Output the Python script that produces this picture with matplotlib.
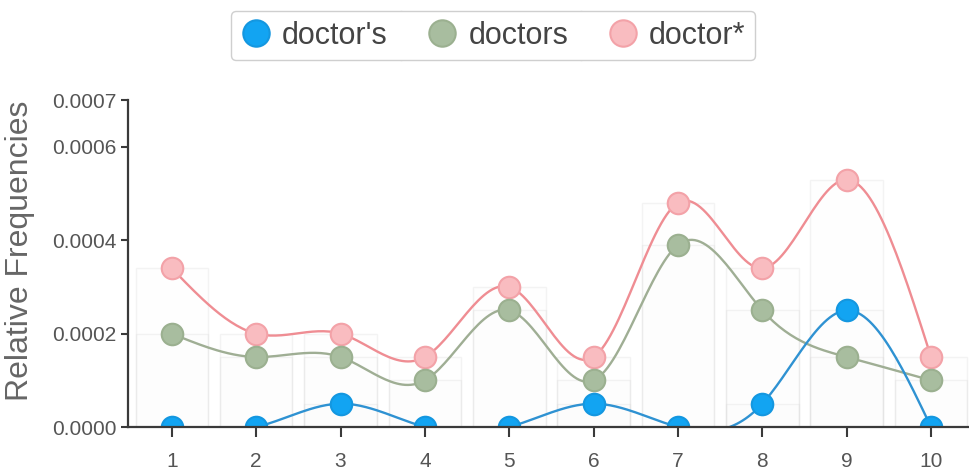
import numpy as np
import matplotlib
matplotlib.use("Agg")
import matplotlib.pyplot as plt
from matplotlib.lines import Line2D

plt.rcParams["font.family"] = ["Liberation Sans", "DejaVu Sans"]

# Données
positions = list(range(1, 11))
labels = ["doctor's", "doctors", "doctor*"]
doctor_s = [0.0, 0.0, 0.00005, 0.0, 0.0, 0.00005, 0.0, 0.00005, 0.00025, 0.0]
doctors = [0.0002, 0.00015, 0.00015, 0.0001, 0.00025, 0.0001, 0.00039, 0.00025, 0.00015, 0.0001]
doctor_star = [0.00034, 0.0002, 0.0002, 0.00015, 0.0003, 0.00015, 0.00048, 0.00034, 0.00053, 0.00015]
y_ticks = [0.0, 0.0002, 0.0004, 0.0006, 0.0007]

# couleurs : (ligne, remplissage, contour)
styles = {
    "doctor's": ("#2f92d2", "#12a4f2", "#1497e0"),
    "doctors": ("#9fae94", "#a8bd9f", "#9bb090"),
    "doctor*": ("#ef8d93", "#f9bcc0", "#f3a2a8"),
}
series = {"doctor's": doctor_s, "doctors": doctors, "doctor*": doctor_star}


def natural_spline(x, y, n=30):
    # courbe naturelle (comme d3.curveNatural), pas régulier
    x = np.asarray(x, float)
    y = np.asarray(y, float)
    k = len(x)
    A = np.zeros((k, k))
    b = np.zeros(k)
    A[0, 0] = A[-1, -1] = 1
    for i in range(1, k - 1):
        A[i, i - 1], A[i, i], A[i, i + 1] = 1, 4, 1
        b[i] = 6 * (y[i + 1] - 2 * y[i] + y[i - 1])
    M = np.linalg.solve(A, b)
    xs, ys = [], []
    for i in range(k - 1):
        t = np.linspace(0, 1, n, endpoint=(i == k - 2))
        seg = ((1 - t) * y[i] + t * y[i + 1]
               + ((1 - t) ** 3 - (1 - t)) * M[i] / 6
               + (t ** 3 - t) * M[i + 1] / 6)
        xs.append(x[i] + t)
        ys.append(seg)
    return np.concatenate(xs), np.concatenate(ys)


fig = plt.figure(figsize=(9.69, 4.75), dpi=100)
ax = fig.add_axes([0.132, 0.101, 0.868, 0.688])

# barres de fond très pâles
for name in ["doctor*", "doctors", "doctor's"]:
    ax.bar(positions, series[name], width=0.86, facecolor=(0.97, 0.9, 0.91, 0.04),
           edgecolor=(0.85, 0.85, 0.85, 0.28), linewidth=1.0, zorder=1)

z = 3
for name in ["doctor*", "doctors", "doctor's"]:
    line_c, fill_c, edge_c = styles[name]
    xs, ys = natural_spline(positions, series[name])
    ax.plot(xs, ys, color=line_c, lw=1.7, zorder=z)
    ax.plot(positions, series[name], "o", ms=15.5, mfc=fill_c, mec=edge_c,
            mew=1.5, ls="none", zorder=z + 1)
    z += 2

ax.set_xlim(0.48, 10.45)
ax.set_ylim(0, 0.0007)
ax.set_xticks(positions)
ax.set_yticks(y_ticks)
ax.set_yticklabels([f"{v:.4f}" for v in y_ticks])

for s in ["top", "right"]:
    ax.spines[s].set_visible(False)
for s in ["left", "bottom"]:
    ax.spines[s].set_color("#3a3a3a")
    ax.spines[s].set_linewidth(1.6)
    ax.spines[s].set_zorder(20)

ax.tick_params(axis="y", length=5, width=1.5, color="#3a3a3a", pad=3,
               labelsize=15, labelcolor="#555555")
ax.tick_params(axis="x", length=7, width=1.5, color="#3a3a3a", pad=11,
               labelsize=15, labelcolor="#555555")

ax.set_ylabel("Relative Frequencies", fontsize=23, color="#666666")
ax.yaxis.set_label_coords(-0.11, 0.54)

# Légende
handles = [Line2D([], [], marker="o", ls="none", ms=19, mfc=styles[n][1],
                  mec=styles[n][2], mew=1.5) for n in labels]
leg = fig.legend(handles, labels, loc="center", ncol=3,
                 bbox_to_anchor=(493 / 969, 1 - 35.5 / 475),
                 fontsize=22, handlelength=1.0, handletextpad=0.35,
                 columnspacing=1.3, borderpad=0.3, frameon=True,
                 fancybox=True, edgecolor="#cfcfcf", framealpha=1)
leg.get_frame().set_linewidth(1.0)
leg.get_frame().set_boxstyle("round", pad=0, rounding_size=0.15)
for t in leg.get_texts():
    t.set_color("#444444")

fig.canvas.draw()
renderer = fig.canvas.get_renderer()
frame_bb = leg.get_frame().get_window_extent(renderer)
texts = leg.get_texts()
lh = leg.legend_handles
for i in range(2):
    right = texts[i].get_window_extent(renderer).x1
    left = lh[i + 1].get_window_extent(renderer).x0
    xm = (right + left) / 2
    x_fig, y0 = fig.transFigure.inverted().transform((xm, frame_bb.y0))
    _, y1 = fig.transFigure.inverted().transform((xm, frame_bb.y1))
    fig.add_artist(Line2D([x_fig, x_fig], [y0, y1], color="#dcdcdc", lw=1.0,
                          transform=fig.transFigure))

fig.savefig("out.png", dpi=100)
